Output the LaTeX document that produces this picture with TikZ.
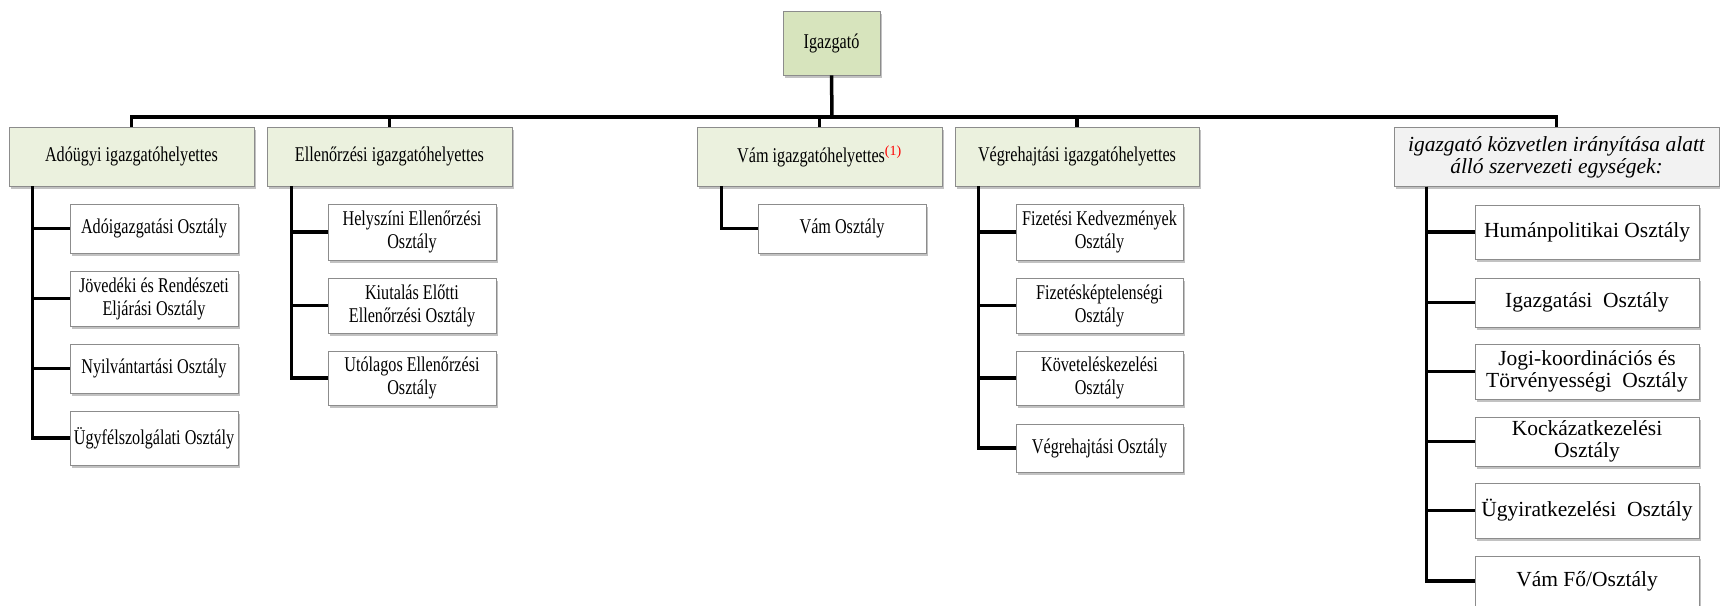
\documentclass[tikz,border=0pt]{standalone}
\usepackage{fontspec}
\setmainfont{Liberation Serif}
\newfontfamily\condf{Liberation Serif}[FakeStretch=0.77]
\usetikzlibrary{shadows}
\definecolor{dirgreen}{HTML}{D7E4BD}
\definecolor{depgreen}{HTML}{EBF1DE}
\definecolor{depgray}{HTML}{F2F2F2}
\definecolor{boxline}{HTML}{8C8C8C}
\tikzset{
  basebox/.style={draw=boxline, line width=0.8pt, align=center, inner sep=1pt,
    drop shadow={shadow xshift=1.5pt, shadow yshift=-2.5pt, fill=black!40, opacity=0.6}},
  topbox/.style={basebox, fill=dirgreen, minimum width=97pt, minimum height=64pt,
    font=\condf\fontsize{21}{23}\selectfont},
  depbox/.style={basebox, fill=depgreen, minimum width=245pt, minimum height=59pt,
    font=\condf\fontsize{21}{23}\selectfont},
  graybox/.style={basebox, fill=depgray, minimum width=325pt, minimum height=59pt,
    font=\itshape\fontsize{21.5}{22}\selectfont},
  unitbox/.style={basebox, fill=white, minimum width=168pt,
    font=\condf\fontsize{21}{23}\selectfont},
  wideunit/.style={basebox, fill=white, minimum width=224pt,
    font=\fontsize{21.5}{22}\selectfont},
  conn/.style={line width=3.5pt, draw=black}
}
\begin{document}
\begin{tikzpicture}[x=1pt, y=-1pt]
\useasboundingbox (0,0) rectangle (1720,605);

% top
\node[topbox] (dir) at (831.5,43) {Igazgató};

% deputies
\node[depbox] (d1) at (131.5,156.5) {Adóügyi igazgatóhelyettes};
\node[depbox] (d2) at (389.5,156.5) {Ellenőrzési igazgatóhelyettes};
\node[depbox] (d3) at (819.5,156.5) {Vám igazgatóhelyettes\textsuperscript{\normalfont\fontsize{14}{14}\selectfont\color{red}(1)}};
\node[depbox, minimum width=244pt] (d4) at (1077,156.5) {Végrehajtási igazgatóhelyettes};
\node[graybox] (d5) at (1556.5,157) {igazgató közvetlen irányítása alatt\\álló szervezeti egységek:};

% column 1
\node[unitbox, minimum height=49pt] (a1) at (154,228.5) {Adóigazgatási Osztály};
\node[unitbox, minimum height=55pt] (a2) at (154,298.5) {Jövedéki és Rendészeti\\Eljárási Osztály};
\node[unitbox, minimum height=49pt] (a3) at (154,368.5) {Nyilvántartási Osztály};
\node[unitbox, minimum height=54pt] (a4) at (154,438) {Ügyfélszolgálati Osztály};

% column 2
\node[unitbox, minimum height=56pt] (b1) at (412,232) {Helyszíni Ellenőrzési\\Osztály};
\node[unitbox, minimum height=55pt] (b2) at (412,305.5) {Kiutalás Előtti\\Ellenőrzési Osztály};
\node[unitbox, minimum height=54pt] (b3) at (412,378) {Utólagos Ellenőrzési\\Osztály};

% column 3
\node[unitbox, minimum height=49pt] (c1) at (842,228.5) {Vám Osztály};

% column 4
\node[unitbox, minimum width=167pt, minimum height=56pt] (e1) at (1099.5,232) {Fizetési Kedvezmények\\Osztály};
\node[unitbox, minimum width=167pt, minimum height=55pt] (e2) at (1099.5,305.5) {Fizetésképtelenségi\\Osztály};
\node[unitbox, minimum width=167pt, minimum height=54pt] (e3) at (1099.5,378) {Követeléskezelési\\Osztály};
\node[unitbox, minimum width=167pt, minimum height=48pt] (e4) at (1099.5,448) {Végrehajtási Osztály};

% column 5
\node[wideunit, minimum height=54pt] (f1) at (1587,232) {Humánpolitikai Osztály};
\node[wideunit, minimum height=49pt] (f2) at (1587,302.5) {Igazgatási~ Osztály};
\node[wideunit, minimum height=55pt] (f3) at (1587,371.5) {Jogi-koordinációs és\\Törvényességi~ Osztály};
\node[wideunit, minimum height=49pt] (f4) at (1587,441.5) {Kockázatkezelési\\Osztály};
\node[wideunit, minimum height=55pt] (f5) at (1587,510.5) {Ügyiratkezelési~ Osztály};
\node[wideunit, minimum height=50pt] (f6) at (1587,581) {Vám Fő/Osztály};

% bus
\coordinate (bus) at (832,117);
\draw[conn] (dir.south) -- (bus);
\foreach \d in {d1,d2,d3,d4,d5} {
  \draw[conn] (\d.north) |- (bus);
}

% branches
\foreach \c in {a1,a2,a3,a4} { \draw[conn] ([xshift=24pt]d1.south west) |- (\c.west); }
\foreach \c in {b1,b2,b3} { \draw[conn] ([xshift=25pt]d2.south west) |- (\c.west); }
\draw[conn] ([xshift=25pt]d3.south west) |- (c1.west);
\foreach \c in {e1,e2,e3,e4} { \draw[conn] ([xshift=24pt]d4.south west) |- (\c.west); }
\foreach \c in {f1,f2,f3,f4,f5,f6} { \draw[conn] ([xshift=33pt]d5.south west) |- (\c.west); }
\end{tikzpicture}
\end{document}
